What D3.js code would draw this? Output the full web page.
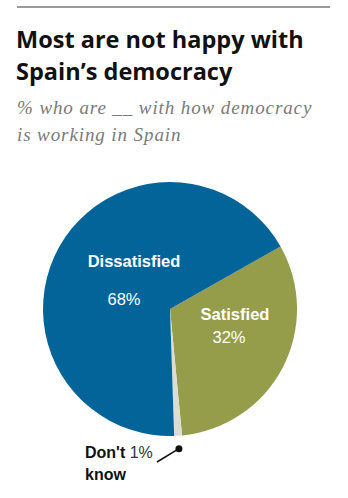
<!DOCTYPE html>
<html><head><meta charset="utf-8">
<script src="https://cdn.jsdelivr.net/npm/d3@7"></script>
<style>body{margin:0;background:#fff}svg{display:block}</style>
</head><body>
<svg id="c" width="348" height="498"></svg>
<script>
const categories = ["Satisfied", "Don't know", "Dissatisfied"];
const values = [32, 1, 68];
const colors = ["#959d4b", "#dcdcd2", "#03649a"];

const svg = d3.select("#c");
svg.append("line").attr("x1",17).attr("x2",330).attr("y1",7).attr("y2",7)
  .attr("stroke","#9a9a9a").attr("stroke-width",2);
const tfont = "'Open Sans', sans-serif";
svg.append("text").attr("x",16).attr("y",48).attr("font-family",tfont).attr("font-weight","bold")
  .attr("font-size",23.5).attr("fill","#111").text("Most are not happy with");
svg.append("text").attr("x",16).attr("y",80).attr("font-family",tfont).attr("font-weight","bold")
  .attr("font-size",23.5).attr("fill","#111").text("Spain\u2019s democracy");
const sfont = "'Liberation Serif', 'Times New Roman', serif";
svg.append("text").attr("x",17).attr("y",114).attr("font-family",sfont).attr("font-style","italic")
  .attr("font-size",19).attr("letter-spacing",0.9).attr("fill","#7a7a7a").text("% who are __ with how democracy");
svg.append("text").attr("x",17).attr("y",141).attr("font-family",sfont).attr("font-style","italic")
  .attr("font-size",19).attr("letter-spacing",0.9).attr("fill","#7a7a7a").text("is working in Spain");

const cx = 170, cy = 309, r = 127;
const start = 60.5 * Math.PI/180;
const pie = d3.pie().sort(null).startAngle(start).endAngle(start + 2*Math.PI);
const arcs = pie(values);
const arc = d3.arc().innerRadius(0).outerRadius(r);
const g = svg.append("g").attr("transform",`translate(${cx},${cy})`);
g.selectAll("path").data(arcs).join("path").attr("d",arc).attr("fill",(d,i)=>colors[i]);

const lfont = "'Liberation Sans', Arial, sans-serif";
svg.append("text").attr("x",134).attr("y",267).attr("text-anchor","middle").attr("font-family",lfont)
  .attr("font-weight","bold").attr("font-size",16.5).attr("fill","#fff").text(categories[2]);
svg.append("text").attr("x",124).attr("y",305).attr("text-anchor","middle").attr("font-family",lfont)
  .attr("font-size",16.5).attr("fill","#fff").text(values[2]+"%");
svg.append("text").attr("x",235).attr("y",320).attr("text-anchor","middle").attr("font-family",lfont)
  .attr("font-weight","bold").attr("font-size",16.5).attr("fill","#fff").text(categories[0]);
svg.append("text").attr("x",229).attr("y",343).attr("text-anchor","middle").attr("font-family",lfont)
  .attr("font-size",16.5).attr("fill","#fff").text(values[0]+"%");

// Don't know label
const t = svg.append("text").attr("x",85).attr("y",458).attr("font-family",lfont).attr("font-size",16).attr("fill","#111");
t.append("tspan").attr("font-weight","bold").text("Don't ");
t.append("tspan").attr("fill","#333").text(values[1]+"%");
svg.append("text").attr("x",85).attr("y",480).attr("font-family",lfont).attr("font-weight","bold")
  .attr("font-size",16).attr("fill","#111").text("know");
const mid = (arcs[1].startAngle+arcs[1].endAngle)/2;
const px = cx + Math.sin(mid)*(r+13), py = cy - Math.cos(mid)*(r+13);
svg.append("line").attr("x1",157).attr("y1",462).attr("x2",px).attr("y2",py).attr("stroke","#111").attr("stroke-width",1.5);
svg.append("circle").attr("cx",px).attr("cy",py).attr("r",3.5).attr("fill","#111");
</script>
</body></html>
